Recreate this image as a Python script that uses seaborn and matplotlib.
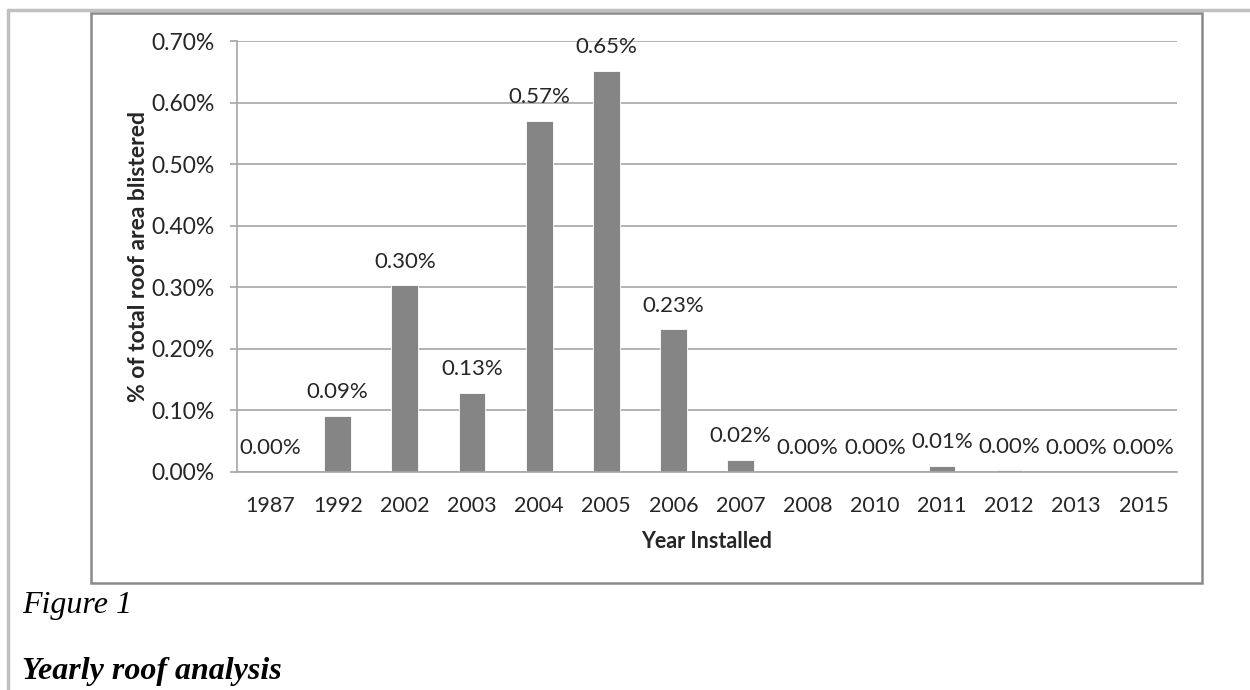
"""Recreate the 'Yearly roof analysis' bar chart (% of roof area blistered by install year)."""

import matplotlib
matplotlib.use('Agg')
import matplotlib.pyplot as plt
from matplotlib.patches import Rectangle
from matplotlib.lines import Line2D
from matplotlib.ticker import FixedLocator, NullFormatter
import pandas as pd
import seaborn as sns

# Data.
years = ['1987', '1992', '2002', '2003', '2004', '2005', '2006',
         '2007', '2008', '2010', '2011', '2012', '2013', '2015']
pct_blistered = [0.0, 0.091, 0.303, 0.129, 0.570, 0.652, 0.232,
                 0.020, 0.0, 0.0, 0.010, 0.003, 0.0, 0.0]
bar_labels = ['0.00%', '0.09%', '0.30%', '0.13%', '0.57%', '0.65%', '0.23%',
              '0.02%', '0.00%', '0.00%', '0.01%', '0.00%', '0.00%', '0.00%']
y_ticks = [0.0, 0.1, 0.2, 0.3, 0.4, 0.5, 0.6, 0.7]
y_ticklabels = ['0.00%', '0.10%', '0.20%', '0.30%', '0.40%', '0.50%', '0.60%', '0.70%']

BAR_COLOR = '#858585'
GRID_COLOR = '#a6a6a6'
TEXT_COLOR = '#262626'

sns.set_theme(style='white')
plt.rcParams['font.family'] = ['Lato', 'DejaVu Sans']

df = pd.DataFrame({'year': years, 'pct': pct_blistered})

fig = plt.figure(figsize=(12.5, 6.9), dpi=100)
W, H = 1250, 690

# Page borders (light gray) and the chart frame (darker gray).
fig.add_artist(Line2D([8 / W, 1.0], [1 - 10 / H, 1 - 10 / H], color='#c0c0c0', lw=2.5))
fig.add_artist(Line2D([8 / W, 8 / W], [0, 1 - 10 / H], color='#c0c0c0', lw=2.5))
fig.add_artist(Rectangle((91 / W, 1 - 583 / H), (1202 - 91) / W, (583 - 13) / H,
                         fill=False, edgecolor='#8a8a8a', lw=1.8))

ax = fig.add_axes([237 / W, 1 - 472 / H, (1177 - 237) / W, (472 - 41) / H])
sns.barplot(data=df, x='year', y='pct', order=years, color=BAR_COLOR,
            width=0.4, saturation=1, edgecolor='white', linewidth=0.6, ax=ax)

ax.set_ylim(0, 0.7)
ax.set_xlim(-0.5, len(years) - 0.5)
ax.set_yticks(y_ticks)
ax.set_yticklabels(y_ticklabels)
ax.yaxis.grid(True, color=GRID_COLOR, lw=1.2)
ax.set_axisbelow(True)

for side in ['top', 'right']:
    ax.spines[side].set_visible(False)
for side in ['left', 'bottom']:
    ax.spines[side].set_color(GRID_COLOR)
    ax.spines[side].set_linewidth(1.2)

# Excel-style category ticks between the bars.
ax.xaxis.set_minor_locator(FixedLocator([i - 0.5 for i in range(len(years) + 1)]))
ax.xaxis.set_minor_formatter(NullFormatter())
ax.tick_params(axis='x', which='major', length=0, pad=17, labelsize=15.5, labelcolor=TEXT_COLOR)
ax.tick_params(axis='x', which='minor', length=7, width=1.2, color=GRID_COLOR, direction='out')
ax.tick_params(axis='y', length=5, width=1.2, color=GRID_COLOR, direction='out',
               pad=11, labelsize=16.5, labelcolor=TEXT_COLOR, left=True)

# Value labels above each bar.
for i, (v, lab) in enumerate(zip(pct_blistered, bar_labels)):
    ax.annotate(lab, (i, v), xytext=(0, 17), textcoords='offset points',
                ha='center', va='center', fontsize=16, color=TEXT_COLOR)

ax.set_xlabel('Year Installed', fontsize=15.5, fontweight='bold', color=TEXT_COLOR, labelpad=11)
ax.set_ylabel('% of total roof area blistered', fontsize=16.5, fontweight='bold',
              color=TEXT_COLOR, labelpad=2)

# Caption below the chart frame.
fig.text(22 / W, 1 - 605 / H, 'Figure 1', family='Liberation Serif', style='italic',
         fontsize=23, color='black', va='center', ha='left')
fig.text(22 / W, 1 - 672 / H, 'Yearly roof analysis', family='Liberation Serif',
         style='italic', fontweight='bold', fontsize=23, color='black', va='center', ha='left')

fig.savefig('out.png', dpi=100)
